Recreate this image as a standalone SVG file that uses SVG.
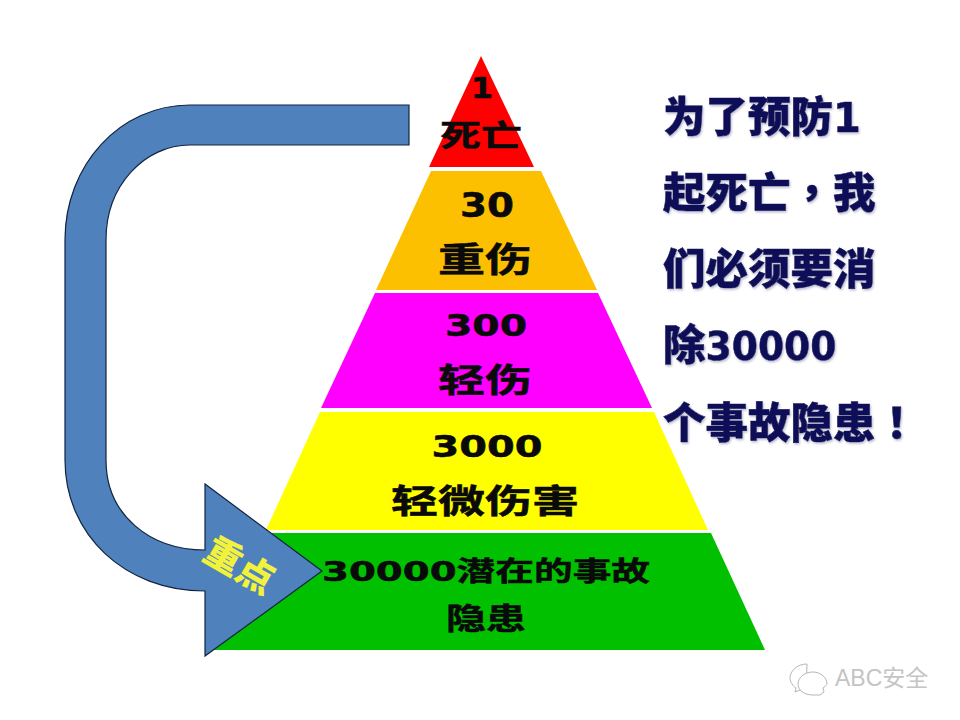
<svg xmlns="http://www.w3.org/2000/svg" width="960" height="720" viewBox="0 0 960 720">
<defs>
<filter id="shadow" x="-5%" y="-10%" width="110%" height="125%"><feDropShadow dx="1" dy="1.5" stdDeviation="1" flood-color="#9a9ac0" flood-opacity="0.7"/></filter>
</defs>
<style>
text{font-family:"DejaVu Sans","Noto Sans CJK SC",sans-serif;font-weight:700}
.l{fill:#0a0a0a;text-anchor:middle;stroke:#0a0a0a;stroke-width:.5}
.t{font-family:"Noto Sans CJK SC",sans-serif;font-size:42.5px;fill:#0e0e58;font-weight:900;stroke:#0e0e58;stroke-width:.6;filter:url(#shadow)}
.d{font-family:"DejaVu Sans",sans-serif}
.p{font-family:"Noto Sans CJK TC",sans-serif}
</style>
<rect width="960" height="720" fill="#fff"/>
<g id="tier-red"><polygon points="481,56 534,167 429,167" fill="#fe0000"/>
<text class="l" x="482" y="98" font-size="28" textLength="22" lengthAdjust="spacingAndGlyphs">1</text>
<text class="l" x="481" y="146" font-size="30" textLength="82" lengthAdjust="spacingAndGlyphs">死亡</text></g>
<g id="tier-orange"><polygon points="431,171 541,171 597,290 376,290" fill="#fdc000"/>
<text class="l" x="487" y="217" font-size="34" textLength="54" lengthAdjust="spacingAndGlyphs">30</text>
<text class="l" x="485" y="272" font-size="34" textLength="94" lengthAdjust="spacingAndGlyphs">重伤</text></g>
<g id="tier-magenta"><polygon points="375,293 598,293 652,408 321,408" fill="#ff00ff"/>
<text class="l" x="486" y="336" font-size="30" textLength="82" lengthAdjust="spacingAndGlyphs">300</text>
<text class="l" x="485" y="392" font-size="33" textLength="94" lengthAdjust="spacingAndGlyphs">轻伤</text></g>
<g id="tier-yellow"><polygon points="320,412 654,412 708,530 266,530" fill="#ffff00"/>
<text class="l" x="487" y="457" font-size="30" textLength="111" lengthAdjust="spacingAndGlyphs">3000</text>
<text class="l" x="485" y="513" font-size="33" textLength="188" lengthAdjust="spacingAndGlyphs">轻微伤害</text></g>
<g id="tier-green"><polygon points="264,533 711,533 765,650 214,650" fill="#00c000"/></g>
<g id="connectors">
<path d="M409,105 H190 C120,105 65,165 65,240 V460 C65,535 125,591 205,591 V656 L322,571 L205,484 V550 C150,550 106,515 106,460 V240 C106,185 145,145 190,145 H409 Z" fill="#4f81bd" stroke="#12243f" stroke-width="1.2"/>
<text x="0" y="0" font-size="37" fill="#f2f23c" text-anchor="middle" transform="translate(233,577) rotate(30)" style="font-family:'Noto Sans CJK SC',sans-serif;font-weight:900">重点</text>
</g>
<g id="tier-green-labels">
<text class="l" x="486" y="581" font-size="27" textLength="328" lengthAdjust="spacingAndGlyphs">30000潜在的事故</text>
<text class="l" x="486" y="629" font-size="30" textLength="80" lengthAdjust="spacingAndGlyphs">隐患</text></g>
<g id="message">
<text class="t" x="663" y="132">为了预防<tspan class="d" font-size="40">1</tspan></text>
<text class="t" x="663" y="208">起死亡<tspan class="p">，</tspan>我</text>
<text class="t" x="663" y="284">们必须要消</text>
<text class="t" x="663" y="360">除<tspan class="d" font-size="39" textLength="131" lengthAdjust="spacingAndGlyphs">30000</tspan></text>
<text class="t" x="663" y="438">个事故隐患<tspan class="p">！</tspan></text>
</g>
<g id="watermark">
<g fill="#fff" stroke="#b5b5b5" stroke-width="1">
<path d="M807,664 C797,664 790,671 790,678 C790,682 793,686 796,688 L795,692 L800,690 C802,691 804,691 806,691 Z"/>
<path d="M813,672 C804,672 798,678 798,684 C798,690 804,695 813,695 L820,695 L824,692 L823,688 C826,686 827,684 827,684 C827,678 821,672 813,672 Z"/>
</g>
<text x="835" y="686" font-size="23" fill="#c4c4c4" style="font-family:'Liberation Sans','Noto Sans CJK SC',sans-serif;font-weight:400">ABC安全</text>
</g>
</svg>
